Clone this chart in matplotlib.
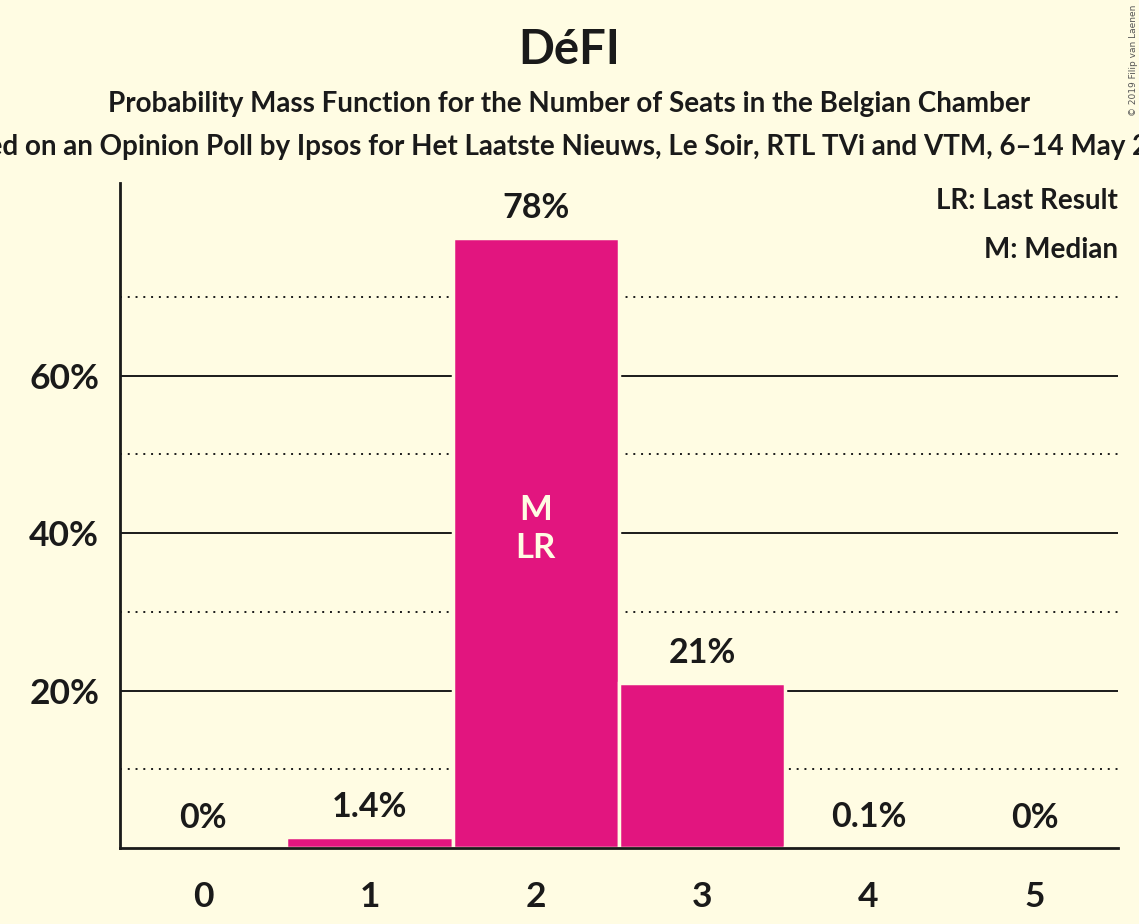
import matplotlib
matplotlib.use("Agg")
import matplotlib.pyplot as plt

# data
seats = [0, 1, 2, 3, 4, 5]
probs = [0.0, 1.4, 77.5, 20.9, 0.1, 0.0]
labels = ["0%", "1.4%", "78%", "21%", "0.1%", "0%"]
median_seat = 2
last_result_seat = 2
yticks_major = [20, 40, 60]
yticks_minor = [10, 30, 50, 70]

title = "DéFI"
subtitle = "Probability Mass Function for the Number of Seats in the Belgian Chamber"
source = ("Based on an Opinion Poll by Ipsos for Het Laatste Nieuws, Le Soir, "
          "RTL TVi and VTM, 6–14 May 2019")
credit = "© 2019 Filip van Laenen"

BG = "#FFFCE3"
BAR = "#E2157F"
INK = "#1A1A1A"

plt.rcParams["font.family"] = ["Lato", "DejaVu Sans"]

fig = plt.figure(figsize=(11.39, 9.24), dpi=100, facecolor=BG)
ax = fig.add_axes([120 / 1139, 76 / 924, 998 / 1139, 665 / 924])
ax.set_facecolor(BG)

vals = [p / 100 for p in probs]
ax.bar(seats, vals, width=1.0, color=BAR, edgecolor=BG, linewidth=2.5, zorder=3)

for y in yticks_major:
    ax.axhline(y / 100, color=INK, lw=1.4, zorder=1)
for y in yticks_minor:
    ax.axhline(y / 100, color=INK, lw=1.4, ls=(0, (1, 3)), zorder=1)

for x, v, lab in zip(seats, vals, labels):
    ax.annotate(lab, (x, v), xytext=(0, 30), textcoords="offset pixels",
                ha="center", va="center", fontsize=24.5, fontweight="bold",
                color=INK, zorder=4)

inside = []
if median_seat is not None:
    inside.append("M")
if last_result_seat is not None:
    inside.append("LR")
ax.annotate("\n".join(inside), (median_seat, vals[median_seat] / 2),
            xytext=(0, 14), textcoords="offset pixels", ha="center",
            va="center", fontsize=25, fontweight="bold", color=BG,
            linespacing=1.25, zorder=4)

ax.text(1.0, 0.9735, "LR: Last Result", transform=ax.transAxes,
        ha="right", va="center", fontsize=20, fontweight="bold", color=INK)
ax.text(1.0, 0.900, "M: Median", transform=ax.transAxes,
        ha="right", va="center", fontsize=20, fontweight="bold", color=INK)

ax.set_xlim(-0.5, 5.5)
ax.set_ylim(0, 0.8445)
ax.set_xticks(seats)
ax.set_xticklabels([str(s) for s in seats])
ax.set_yticks([y / 100 for y in yticks_major])
ax.set_yticklabels([f"{y}%" for y in yticks_major])
ax.tick_params(axis="both", length=0, labelsize=25.5, colors=INK)
ax.tick_params(axis="y", pad=15)
ax.tick_params(axis="x", pad=24)
for t in ax.get_xticklabels() + ax.get_yticklabels():
    t.set_fontweight("bold")

for s in ("top", "right"):
    ax.spines[s].set_visible(False)
for s in ("left", "bottom"):
    ax.spines[s].set_color(INK)
    ax.spines[s].set_linewidth(2)
    ax.spines[s].set_zorder(5)

fig.text(0.5, 1 - 50 / 924, title, ha="center", va="center",
         fontsize=34, fontweight="bold", color=INK)
fig.text(0.5, 1 - 104 / 924, subtitle, ha="center", va="center",
         fontsize=20, fontweight="bold", color=INK)
fig.text(0.5, 1 - 147 / 924, source, ha="center", va="center",
         fontsize=20, fontweight="bold", color=INK)
fig.text(1 - 6 / 1139, 1 - 5 / 924, credit, ha="center", va="top",
         rotation=90, fontsize=6.5, color="#555555", family="DejaVu Sans")

fig.savefig("out.png", dpi=100, facecolor=BG)
